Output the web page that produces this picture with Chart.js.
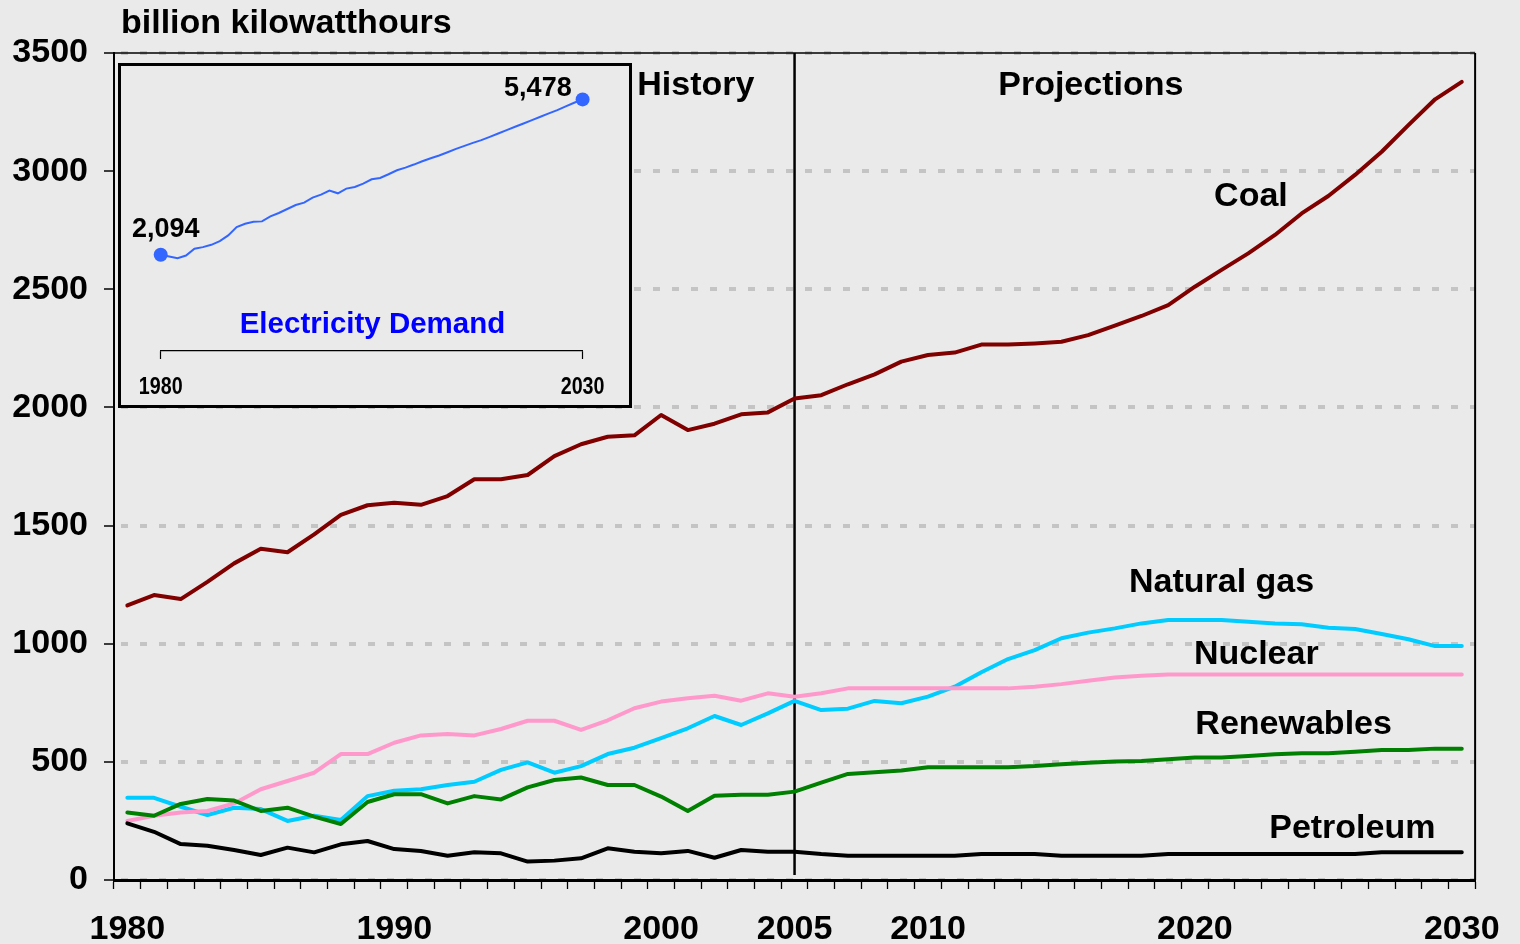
<!DOCTYPE html>
<html><head><meta charset="utf-8">
<script src="https://cdn.jsdelivr.net/npm/chart.js@4.4.0/dist/chart.umd.min.js"></script>
<style>
html,body{margin:0;padding:0;background:#eaeaea;}
#wrap{position:relative;width:1520px;height:944px;overflow:hidden;}
#main{position:absolute;left:0;top:0;}
#insetBox{position:absolute;left:118px;top:63px;width:508px;height:339px;border:3px solid #000;background:#eaeaea;}
#inset{display:block;}
</style></head><body>
<div id="wrap">
<canvas id="main" width="1520" height="944"></canvas>
<div id="insetBox"><canvas id="inset" width="508" height="339"></canvas></div>
</div>
<script>
// ---- categories ----
const years = ['1980','1981','1982','1983','1984','1985','1986','1987','1988','1989',
 '1990','1991','1992','1993','1994','1995','1996','1997','1998','1999',
 '2000','2001','2002','2003','2004','2005','2006','2007','2008','2009',
 '2010','2011','2012','2013','2014','2015','2016','2017','2018','2019',
 '2020','2021','2022','2023','2024','2025','2026','2027','2028','2029','2030'];
const xTickLabels = ['1980','1990','2000','2005','2010','2020','2030'];
const dividerYear = '2005';

// ---- series (billion kilowatthours) ----
const coal = [1162,1206,1189,1262,1340,1402,1387,1463,1545,1586,
 1597,1588,1625,1696,1696,1714,1794,1844,1876,1882,
 1968,1904,1931,1971,1979,2038,2052,2098,2140,2194,
 2222,2232,2266,2266,2271,2278,2306,2346,2387,2433,
 2511,2582,2652,2730,2821,2895,2984,3082,3195,3304,3378];
const naturalGas = [348,348,310,275,306,300,250,272,254,355,
 378,384,402,416,466,498,454,482,533,560,
 600,642,694,656,705,758,719,725,758,748,
 776,818,879,935,973,1023,1047,1065,1086,1100,
 1100,1100,1093,1086,1082,1068,1062,1041,1019,990,990];
const nuclear = [250,272,286,292,324,384,419,454,533,533,
 581,612,618,612,639,674,674,635,676,727,
 755,769,780,759,790,776,790,811,811,811,
 811,811,811,811,818,829,843,857,864,870,
 870,870,870,870,870,870,870,870,870,870,870];
const renewables = [286,272,322,343,336,292,306,268,237,330,
 363,363,324,355,341,392,423,434,402,402,
 353,292,357,361,361,374,412,449,456,463,
 477,477,477,477,482,490,496,501,504,511,
 518,518,525,532,536,536,543,550,550,556,556];
const petroleum = [240,204,152,145,127,106,137,117,151,165,
 131,123,103,117,113,78,82,92,134,120,
 113,123,94,127,120,120,110,103,103,103,
 103,103,110,110,110,103,103,103,103,110,
 110,110,110,110,110,110,110,117,117,117,117];

// ---- inset series: electricity demand ----
const demandYears = [1980,1981,1982,1983,1984,1985,1986,1987,1988,1989,
 1990,1991,1992,1993,1994,1995,1996,1997,1998,1999,
 2000,2001,2002,2003,2004,2005,2006,2007,2008,2009,
 2010,2011,2012,2013,2014,2015,2016,2017,2018,2019,
 2020,2021,2022,2023,2024,2025,2026,2027,2028,2029,2030];
const demand = [2094,2058,2021,2079,2225,2261,2312,2392,2516,2698,
 2771,2814,2822,2931,3004,3091,3178,3229,3338,3404,
 3491,3433,3535,3571,3644,3739,3768,3848,3935,3993,
 4059,4132,4197,4255,4328,4401,4466,4532,4590,4663,
 4736,4808,4881,4954,5027,5099,5172,5245,5325,5405,5478];
const demandStartLabel = '2,094';
const demandEndLabel = '5,478';
const insetTitle = 'Electricity Demand';
const insetTickYears = [1980, 2030];

// ---- text labels ----
const unitLabel = 'billion kilowatthours';
const seriesNames = ['Coal','Natural gas','Nuclear','Renewables','Petroleum'];
const periodNames = ['History','Projections'];

// ---- styling / layout (kept separate from data) ----
const FONT = "'Liberation Sans', Arial, Helvetica, sans-serif";
const noteAnchors = [ // [text, category index position, value]
  [periodNames[0], 21.3, 3360],
  [periodNames[1], 36.1, 3364],
  [seriesNames[0], 42.1, 2894],
  [seriesNames[1], 41.0, 1257],
  [seriesNames[2], 42.3, 952],
  [seriesNames[3], 43.7, 656],
  [seriesNames[4], 45.9, 216]
];

const mainPlugin = {
  id: 'mainDecor',
  beforeDatasetsDraw(chart) {
    const {ctx, chartArea: a, scales: {x}} = chart;
    ctx.save();
    ctx.strokeStyle = '#000';
    ctx.lineWidth = 1.5;
    ctx.beginPath();
    ctx.moveTo(a.left, a.top); ctx.lineTo(a.right, a.top);
    ctx.stroke();
    ctx.lineWidth = 2;
    ctx.beginPath();
    ctx.moveTo(a.right, a.top); ctx.lineTo(a.right, a.bottom);
    ctx.stroke();
    // divider history / projections
    const dx = x.getPixelForValue(years.indexOf(dividerYear));
    ctx.lineWidth = 2.5;
    ctx.beginPath();
    ctx.moveTo(dx, a.top); ctx.lineTo(dx, a.bottom - 5);
    ctx.stroke();
    ctx.restore();
  },
  afterDatasetsDraw(chart) {
    const {ctx, chartArea: a, scales: {x, y}} = chart;
    ctx.save();
    ctx.fillStyle = '#000';
    ctx.font = 'bold 34px ' + FONT;
    ctx.textAlign = 'center';
    ctx.textBaseline = 'middle';
    noteAnchors.forEach(([t, xi, v]) => {
      ctx.fillText(t, x.getPixelForValue(xi), y.getPixelForValue(v));
    });
    ctx.textAlign = 'left';
    ctx.font = 'bold 34px ' + FONT;
    ctx.fillText(unitLabel, a.left + 7, a.top - 29);
    ctx.restore();
  }
};

const lineDs = (label, data, color) => ({
  label, data, borderColor: color, backgroundColor: color,
  borderWidth: 4, pointRadius: 0, tension: 0, fill: false,
  borderJoinStyle: 'round', borderCapStyle: 'round'
});

new Chart(document.getElementById('main').getContext('2d'), {
  type: 'line',
  data: {
    labels: years,
    datasets: [
      lineDs(seriesNames[0], coal, '#800000'),
      lineDs(seriesNames[4], petroleum, '#000000'),
      lineDs(seriesNames[3], renewables, '#008000'),
      lineDs(seriesNames[2], nuclear, '#ff99cc'),
      lineDs(seriesNames[1], naturalGas, '#00ccff')
    ]
  },
  options: {
    responsive: false,
    animation: false,
    layout: {padding: {top: 53, right: 42, left: 0, bottom: 0}},
    plugins: {legend: {display: false}, tooltip: {enabled: false}, title: {display: false}},
    scales: {
      x: {
        type: 'category',
        offset: true,
        afterFit: s => { s.height = 64; },
        grid: {display: true, offset: true, drawOnChartArea: false, drawTicks: true,
               tickLength: 9, color: '#000', tickColor: '#000', tickWidth: 1.3},
        border: {display: true, color: '#000', width: 3},
        ticks: {
          autoSkip: false, maxRotation: 0, minRotation: 0, padding: 20,
          color: '#000', font: {family: FONT, size: 34, weight: 'bold'},
          callback: function(v) { const l = this.getLabelForValue(v); return xTickLabels.includes(l) ? l : ''; }
        }
      },
      y: {
        min: 0, max: 3500,
        afterFit: s => { s.width = 114; },
        grid: {display: true, color: '#c4c4c4', lineWidth: 4, drawTicks: true,
               tickLength: 10, tickColor: '#000', tickWidth: 1.5},
        border: {display: true, color: '#000', width: 2, dash: [7, 12], dashOffset: -6},
        ticks: {stepSize: 500, padding: 16, color: '#000',
                font: {family: FONT, size: 34, weight: 'bold'},
                callback: v => String(v)}
      }
    }
  },
  plugins: [mainPlugin]
});

// ---- inset ----
const insetNotes = [ // [text, year position, value, font, color]
  [demandStartLabel, 1980.6, 2640, 'bold 27px ' + FONT, '#000'],
  [demandEndLabel, 2024.7, 5710, 'bold 27px ' + FONT, '#000'],
  [insetTitle, 2005.1, 570, 'bold 29.5px ' + FONT, '#0000ff']
];
const insetPlugin = {
  id: 'insetDecor',
  afterDatasetsDraw(chart) {
    const {ctx, chartArea: a, scales: {x, y}} = chart;
    ctx.save();
    ctx.textAlign = 'center';
    ctx.textBaseline = 'middle';
    insetNotes.forEach(([t, xv, yv, f, c]) => {
      ctx.font = f; ctx.fillStyle = c;
      ctx.fillText(t, x.getPixelForValue(xv), y.getPixelForValue(yv));
    });
    // narrow axis year labels (condensed horizontally)
    ctx.fillStyle = '#000';
    ctx.font = 'bold 24px ' + FONT;
    insetTickYears.forEach(v => {
      const px = x.getPixelForValue(v);
      ctx.save();
      ctx.translate(px, a.bottom + 36);
      ctx.scale(0.82, 1);
      ctx.fillText(String(v), 0, 0);
      ctx.restore();
    });
    ctx.restore();
  }
};
const last = demand.length - 1;
new Chart(document.getElementById('inset').getContext('2d'), {
  type: 'line',
  data: {
    datasets: [{
      data: demandYears.map((yr, i) => ({x: yr, y: demand[i]})),
      borderColor: '#3366ff', borderWidth: 2, tension: 0, fill: false, clip: false,
      pointRadius: c => (c.dataIndex === 0 || c.dataIndex === last) ? 7 : 0,
      pointBackgroundColor: '#3366ff', pointBorderWidth: 0
    }]
  },
  options: {
    responsive: false,
    animation: false,
    layout: {padding: {left: 39.7, right: 46.4, top: 9.4, bottom: 0}},
    plugins: {legend: {display: false}, tooltip: {enabled: false}},
    scales: {
      x: {
        type: 'linear', min: insetTickYears[0], max: insetTickYears[1],
        afterBuildTicks: s => { s.ticks = insetTickYears.map(v => ({value: v})); },
        afterFit: s => { s.height = 54; },
        grid: {drawOnChartArea: false, drawTicks: true, tickLength: 8, color: '#000', tickWidth: 1.2},
        border: {display: true, color: '#000', width: 1.2},
        ticks: {display: false}
      },
      y: {display: false, min: 0, max: 6000}
    }
  },
  plugins: [insetPlugin]
});
</script>
</body></html>
